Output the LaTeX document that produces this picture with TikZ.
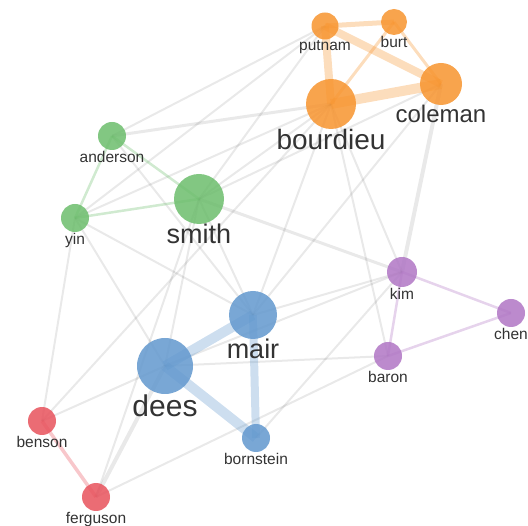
\documentclass[tikz,border=0pt]{standalone}
\usepackage{fontspec}
\setmainfont{Liberation Sans}
\pgfdeclarelayer{back}
\pgfsetlayers{back,main}
\definecolor{cblue}{RGB}{98,152,206}
\definecolor{corange}{RGB}{247,148,46}
\definecolor{cgreen}{RGB}{108,189,108}
\definecolor{cpurple}{RGB}{176,118,196}
\definecolor{cred}{RGB}{232,82,92}
\definecolor{ctext}{RGB}{51,51,51}
\begin{document}
\begin{tikzpicture}[x=1pt, y=-1pt,
    author/.style={circle, inner sep=0pt, draw=none, fill opacity=0.85},
    lab/.style={font=\fontsize{15.5}{15.5}\selectfont, text=ctext, inner sep=0.5pt, text opacity=1, fill opacity=1},
    biglab/.style={lab, font=\fontsize{#1}{#1}\selectfont, inner sep=0pt},
    tie/.style={draw=black, draw opacity=0.085, line width=2pt},
    cotie/.style={draw=#1, draw opacity=0.32, line width=2.5pt}
]
\useasboundingbox (0,0) rectangle (528,526);

% Authors (pixel positions)
\node[author, fill=corange, minimum size=27pt, label={[lab]below:putnam}] (putnam) at (325,26) {};
\node[author, fill=corange, minimum size=26pt, label={[lab]below:burt}] (burt) at (394,22) {};
\node[author, fill=corange, minimum size=42pt, label={[biglab=24]below:coleman}] (coleman) at (441,84) {};
\node[author, fill=corange, minimum size=50pt, label={[biglab=28]below:bourdieu}] (bourdieu) at (331,104) {};
\node[author, fill=cgreen, minimum size=28pt, label={[lab]below:anderson}] (anderson) at (112,136) {};
\node[author, fill=cgreen, minimum size=50pt, label={[biglab=27]below:smith}] (smith) at (199,199) {};
\node[author, fill=cgreen, minimum size=28pt, label={[lab]below:yin}] (yin) at (75,218) {};
\node[author, fill=cpurple, minimum size=30pt, label={[lab]below:kim}] (kim) at (402,272) {};
\node[author, fill=cpurple, minimum size=28pt, label={[lab]below:chen}] (chen) at (511,313) {};
\node[author, fill=cpurple, minimum size=28pt, label={[lab]below:baron}] (baron) at (388,356) {};
\node[author, fill=cblue, minimum size=48pt, label={[biglab=27]below:mair}] (mair) at (253,315) {};
\node[author, fill=cblue, minimum size=56pt, label={[biglab=30]below:dees}] (dees) at (165,366) {};
\node[author, fill=cblue, minimum size=28pt, label={[lab]below:bornstein}] (bornstein) at (256,438) {};
\node[author, fill=cred, minimum size=28pt, label={[lab]below:benson}] (benson) at (42,421) {};
\node[author, fill=cred, minimum size=28pt, label={[lab]below:ferguson}] (ferguson) at (96,497) {};

\begin{pgfonlayer}{back}
% Links between clusters
\foreach \a/\b/\w in {anderson/bourdieu/3, anderson/putnam/2, anderson/mair/2,
    yin/benson/2, yin/dees/2, yin/mair/2, yin/bourdieu/2, yin/putnam/2,
    smith/kim/3, smith/bourdieu/2, smith/coleman/2, smith/putnam/2, smith/mair/2,
    smith/dees/2, smith/ferguson/2, dees/benson/2, dees/ferguson/4, dees/kim/2,
    dees/baron/2, mair/kim/2, mair/coleman/2, mair/bourdieu/2, bornstein/kim/2,
    ferguson/baron/2, coleman/kim/4, bourdieu/kim/2, bourdieu/baron/2, benson/bourdieu/2}
  \draw[tie, line width=\w pt] (\a.center) -- (\b.center);

% Links within clusters
\foreach \a/\b/\w in {putnam/burt/5, putnam/coleman/8, putnam/bourdieu/8,
    burt/bourdieu/3, burt/coleman/3, bourdieu/coleman/10}
  \draw[cotie=corange, line width=\w pt] (\a.center) -- (\b.center);
\foreach \a/\b in {anderson/smith, anderson/yin, yin/smith}
  \draw[cotie=cgreen] (\a.center) -- (\b.center);
\foreach \a/\b in {kim/chen, kim/baron, baron/chen}
  \draw[cotie=cpurple] (\a.center) -- (\b.center);
\foreach \a/\b/\w in {dees/mair/10, dees/bornstein/10, mair/bornstein/8}
  \draw[cotie=cblue, line width=\w pt] (\a.center) -- (\b.center);
\draw[cotie=cred, line width=3.5pt] (benson.center) -- (ferguson.center);
\end{pgfonlayer}
\end{tikzpicture}
\end{document}
